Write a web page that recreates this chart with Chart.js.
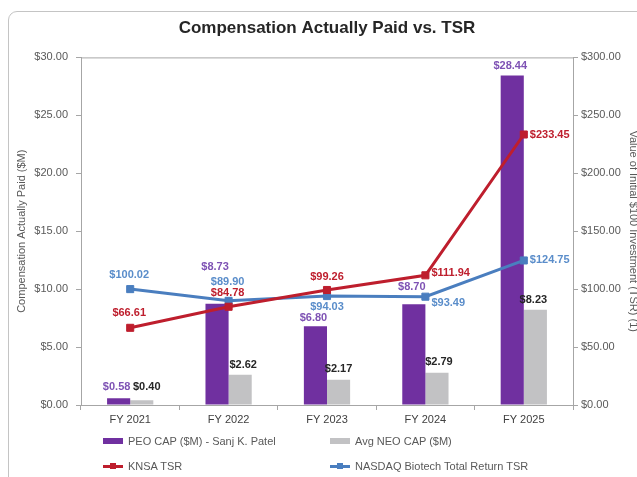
<!DOCTYPE html>
<html>
<head>
<meta charset="utf-8">
<script src="https://cdn.jsdelivr.net/npm/chart.js@4.4.1/dist/chart.umd.min.js"></script>
<style>
  html, body { margin: 0; padding: 0; background: #fff; overflow: hidden; width: 637px; height: 477px; }
  #wrap { position: relative; width: 637px; height: 477px; overflow: hidden; }
  #card { position: absolute; left: 8px; top: 11px; width: 700px; height: 520px;
          border: 1px solid #c4c4c4; border-radius: 9px; box-sizing: border-box; }
  canvas { position: absolute; left: 0; top: 0; }
  .leg { position: absolute; font: 11px "Liberation Sans", Arial, sans-serif; color: #595959;
         height: 14px; line-height: 14px; white-space: nowrap; }
  .sw { position: absolute; left: 0; }
  .leg span.t { position: absolute; left: 25px; top: 0; }
</style>
</head>
<body>
<div id="wrap">
  <div id="card"></div>
  <canvas id="capChart" width="640" height="477"></canvas>
  <div id="legend"></div>
</div>
<script>
// data
const categories = ['FY 2021', 'FY 2022', 'FY 2023', 'FY 2024', 'FY 2025'];
const peoCap = [0.58, 8.73, 6.80, 8.70, 28.44];
const neoCap = [0.40, 2.62, 2.17, 2.79, 8.23];
const knsaTsr = [66.61, 84.78, 99.26, 111.94, 233.45];
const nasdaqTsr = [100.02, 89.90, 94.03, 93.49, 124.75];
const capTicks = [0, 5, 10, 15, 20, 25, 30];
const tsrTicks = [0, 50, 100, 150, 200, 250, 300];

const FONT = '"Liberation Sans", Arial, sans-serif';
const PURPLE = '#7030A0';
const GREY = '#C2C2C4';
const RED = '#BE1E2D';
const BLUE = '#4A7EBF';

// where each value label sits relative to its bar top / point: [dx, dy, align]
const labelStyle = [
  { color: '#7E52B4', pos: [[-2, -11], [-2, -37], [-2, -8], [-2, -17], [-2, -10]] },
  { color: '#262626', pos: [[5, -13], [3, -10], [0, -11], [2, -11], [-2, -10]] },
  { color: '#BE1E2D', pos: [[-1, -15], [-1, -14], [0, -13], [6, -2, 'left'], [6, 0, 'left']] },
  { color: '#5A8DCA', pos: [[-1, -14], [-1, -19], [0, 11], [6, 6, 'left'], [6, 0, 'left']] }
];

const valueLabels = {
  id: 'valueLabels',
  afterDatasetsDraw(chart) {
    const ctx = chart.ctx;
    chart.data.datasets.forEach((ds, i) => {
      const st = labelStyle[i];
      chart.getDatasetMeta(i).data.forEach((el, j) => {
        const p = st.pos[j];
        ctx.save();
        ctx.font = 'bold 11px ' + FONT;
        ctx.fillStyle = st.color;
        ctx.textAlign = p[2] || 'center';
        ctx.textBaseline = 'middle';
        ctx.fillText('$' + ds.data[j].toFixed(2), el.x + p[0], el.y + p[1]);
        ctx.restore();
      });
    });
  }
};

// top edge of the plot frame
const topFrame = {
  id: 'topFrame',
  beforeDatasetsDraw(chart) {
    const { ctx, chartArea } = chart;
    ctx.save();
    ctx.strokeStyle = '#A6A6A6';
    ctx.lineWidth = 1;
    ctx.beginPath();
    ctx.moveTo(chartArea.left, chartArea.top + 0.5);
    ctx.lineTo(chartArea.right, chartArea.top + 0.5);
    ctx.stroke();
    ctx.restore();
  }
};

const axisGrid = { display: true, drawOnChartArea: false, drawTicks: true, tickLength: 5, color: '#A6A6A6' };
const tickFont = { family: FONT, size: 11 };

const chart = new Chart(document.getElementById('capChart'), {
  type: 'bar',
  data: {
    labels: categories,
    datasets: [
      { label: 'PEO CAP ($M) - Sanj K. Patel', data: peoCap, backgroundColor: PURPLE,
        yAxisID: 'yCap', order: 3, categoryPercentage: 0.47, barPercentage: 1.0 },
      { label: 'Avg NEO CAP ($M)', data: neoCap, backgroundColor: GREY,
        yAxisID: 'yCap', order: 3, categoryPercentage: 0.47, barPercentage: 1.0 },
      { type: 'line', label: 'KNSA TSR', data: knsaTsr, yAxisID: 'yTsr', order: 1,
        borderColor: RED, backgroundColor: RED, borderWidth: 3, pointStyle: 'rect',
        pointRadius: 5, pointBorderWidth: 1, tension: 0 },
      { type: 'line', label: 'NASDAQ Biotech Total Return TSR', data: nasdaqTsr, yAxisID: 'yTsr', order: 2,
        borderColor: BLUE, backgroundColor: BLUE, borderWidth: 3, pointStyle: 'rect',
        pointRadius: 5, pointBorderWidth: 1, tension: 0 }
    ]
  },
  options: {
    responsive: false,
    animation: false,
    devicePixelRatio: 1,
    layout: { padding: 0 },
    plugins: {
      legend: { display: false },
      tooltip: { enabled: false },
      title: {
        display: true,
        fullSize: false,
        text: 'Compensation Actually Paid vs. TSR',
        color: '#262626',
        font: { family: FONT, size: 17, weight: 'bold' },
        padding: { top: 18, bottom: 19 }
      }
    },
    scales: {
      x: {
        grid: axisGrid,
        border: { display: true, color: '#A6A6A6' },
        ticks: { color: '#404040', font: tickFont, padding: 3 },
        afterFit(scale) { scale.height = 72; }
      },
      yCap: {
        position: 'left',
        min: 0, max: 30,
        afterBuildTicks(scale) { scale.ticks = capTicks.map(v => ({ value: v })); },
        grid: axisGrid,
        border: { display: true, color: '#A6A6A6' },
        ticks: { color: '#595959', font: tickFont, padding: 8,
                 callback: v => '$' + Number(v).toFixed(2) },
        title: { display: true, text: 'Compensation Actually Paid ($M)', color: '#595959',
                 font: tickFont, padding: { top: 15, bottom: 0 } },
        afterFit(scale) { scale.width = 81; }
      },
      yTsr: {
        position: 'right',
        min: 0, max: 300,
        afterBuildTicks(scale) { scale.ticks = tsrTicks.map(v => ({ value: v })); },
        grid: axisGrid,
        border: { display: true, color: '#A6A6A6' },
        ticks: { color: '#595959', font: tickFont, padding: 3,
                 callback: v => '$' + Number(v).toFixed(2) },
        title: { display: true, text: 'Value of Initial $100 Investment (TSR) (1)', color: '#595959',
                 font: tickFont, padding: { top: 0, bottom: 0 } },
        afterFit(scale) { scale.width = 67; }
      }
    }
  },
  plugins: [valueLabels, topFrame]
});

// two-column legend under the plot, built from the datasets
const legendSpots = [[103, 434], [330, 434], [103, 459], [330, 459]];
const legendEl = document.getElementById('legend');
chart.data.datasets.forEach((ds, i) => {
  const item = document.createElement('div');
  item.className = 'leg';
  item.style.left = legendSpots[i][0] + 'px';
  item.style.top = legendSpots[i][1] + 'px';
  let sw;
  if (ds.type === 'line') {
    sw = '<div class="sw" style="top:6px;width:20px;height:3px;background:' + ds.borderColor + '"></div>' +
         '<div class="sw" style="left:7px;top:4px;width:6px;height:6px;background:' + ds.borderColor + '"></div>';
  } else {
    sw = '<div class="sw" style="top:4px;width:20px;height:6px;background:' + ds.backgroundColor + '"></div>';
  }
  item.innerHTML = sw + '<span class="t">' + ds.label + '</span>';
  legendEl.appendChild(item);
});
</script>
</body>
</html>
